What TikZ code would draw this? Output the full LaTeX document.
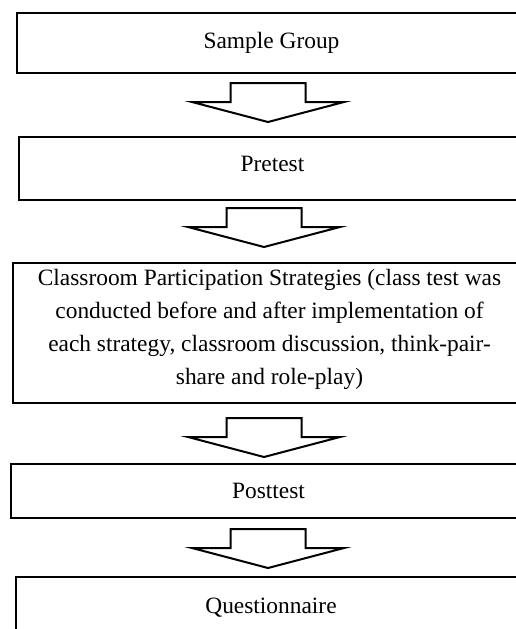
\documentclass[tikz,border=0pt]{standalone}
\usepackage{fontspec}
\setmainfont{Liberation Serif}
\usepackage{tikz}
\tikzset{%
    stagebox/.style={%
        draw, line width=2pt, anchor=north west, inner sep=0pt,
        align=center, font=\fontsize{23.4}{33}\selectfont
    },
    blockarr/.pic={%
        \draw[line width=2pt] (-37.5,0) -- (37.5,0) -- (37.5,19) -- (76,19)
            -- (0,39) -- (-76,19) -- (-37.5,19) -- cycle;
    }
}

\begin{document}
\begin{tikzpicture}[x=1pt,y=-1pt]
    \useasboundingbox (0,0) rectangle (516,629);
%    the boxes run out past the right edge of the page
    \node[stagebox,minimum width=509pt,minimum height=60pt] (sample) at (16,12) {Sample Group};
    \node[stagebox,minimum width=507pt,minimum height=63pt,text depth=10pt] (pre) at (18,136) {Pretest};
    \node[stagebox,minimum width=513pt,minimum height=140pt,text depth=13pt] (strat) at (12,262)
        {Classroom Participation Strategies (class test was\\
         conducted before and after implementation of\\
         each strategy, classroom discussion, think-pair-\\
         share and role-play)};
    \node[stagebox,minimum width=515pt,minimum height=54pt] (post) at (10,463) {Posttest};
    \node[stagebox,minimum width=510pt,minimum height=62pt] (quest) at (15,576) {Questionnaire};
    % block arrows between the stages
    \coordinate (a1) at (268,83);
    \coordinate (a2) at (264,208);
    \coordinate (a3) at (264,418);
    \coordinate (a4) at (268,529);
    \pic at (a1) {blockarr};
    \pic at (a2) {blockarr};
    \pic at (a3) {blockarr};
    \pic at (a4) {blockarr};
\end{tikzpicture}
\end{document}
